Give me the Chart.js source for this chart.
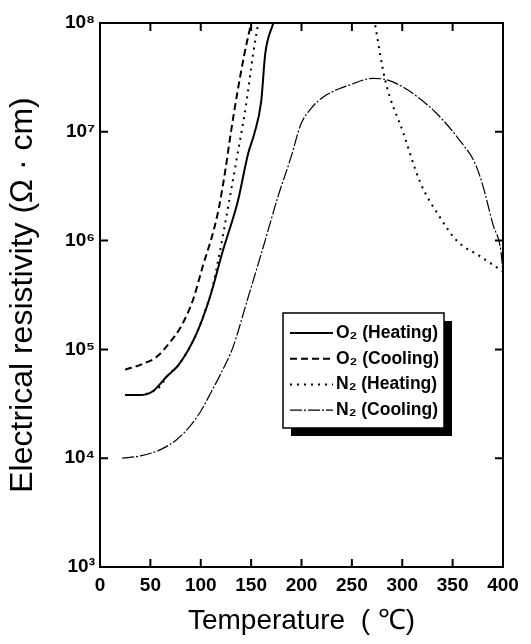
<!DOCTYPE html>
<html>
<head>
<meta charset="utf-8">
<script src="https://cdn.jsdelivr.net/npm/chart.js@4.4.1/dist/chart.umd.min.js"></script>
<style>
  html, body { margin: 0; padding: 0; background: #fff; }
</style>
</head>
<body>
<canvas id="chart" width="531" height="644"></canvas>
<script>
// values (temperature in °C, resistivity in ohm·cm)
const o2HeatT = [25, 40, 52, 66, 79, 96, 109, 122, 137, 147, 153, 160, 164, 172];
const o2HeatR = [3.8e4, 3.8e4, 4.1e4, 5.6e4, 7.4e4, 1.41e5, 3.0e5, 8.1e5, 2.34e6, 6.3e6, 9.5e6, 1.9e7, 5.2e7, 1e8];

const o2CoolT = [25, 43, 56, 69, 80, 92, 102, 113, 118, 124, 130, 136, 143, 150];
const o2CoolR = [6.5e4, 7.4e4, 8.5e4, 1.15e5, 1.6e5, 2.8e5, 5.8e5, 1.26e6, 2.0e6, 4.2e6, 1.0e7, 2.2e7, 5.0e7, 1e8];

// N2 heating leaves the top of the plot and comes back down (null = gap)
const n2HeatT = [25, 40, 52, 60, 66, 79, 96, 106, 111, 119, 125, 135, 145, 152, 158, 215, 272, 283, 301, 318, 337, 354, 377, 400];
const n2HeatR = [3.8e4, 3.8e4, 4.1e4, 4.6e4, 5.6e4, 7.4e4, 1.41e5, 2.5e5, 3.5e5, 7.9e5, 1.58e6, 5.2e6, 1.78e7, 5.2e7, 1.12e8, null, 1.1e8, 3.0e7, 9.8e6, 3.4e6, 1.66e6, 1.0e6, 7.2e5, 5.2e5];

const n2CoolT = [22, 40, 60, 76, 90, 100, 110, 120, 132, 146, 161, 177, 190, 199, 210, 222, 248, 271, 285, 300, 315, 334, 359, 372, 380, 390, 398, 400];
const n2CoolR = [1.0e4, 1.05e4, 1.2e4, 1.48e4, 2.0e4, 2.7e4, 4.0e4, 6.0e4, 1.05e5, 2.8e5, 8.1e5, 2.6e6, 6.0e6, 1.15e7, 1.66e7, 2.1e7, 2.7e7, 3.1e7, 3.0e7, 2.6e7, 2.1e7, 1.48e7, 7.9e6, 5.2e6, 3.2e6, 1.41e6, 7.9e5, 5.0e5];

const seriesLabels = ['O₂ (Heating)', 'O₂ (Cooling)', 'N₂ (Heating)', 'N₂ (Cooling)'];

const xTicks = [0, 50, 100, 150, 200, 250, 300, 350, 400];
const yTicks = [1e3, 1e4, 1e5, 1e6, 1e7, 1e8];
const yTickLabels = ['10³', '10⁴', '10⁵', '10⁶', '10⁷', '10⁸'];

const fontFamily = "'Liberation Sans', Arial, sans-serif";

const toPoints = (xs, ys) => xs.map((x, i) => ({ x, y: ys[i] }));

const lineStyles = [
  { borderWidth: 2, borderDash: [] },
  { borderWidth: 2, borderDash: [7, 4] },
  { borderWidth: 2, borderDash: [2, 5] },
  { borderWidth: 1.2, borderDash: [12, 2, 2, 2] },
];

const seriesData = [
  toPoints(o2HeatT, o2HeatR),
  toPoints(o2CoolT, o2CoolR),
  toPoints(n2HeatT, n2HeatR),
  toPoints(n2CoolT, n2CoolR),
];

// box round the plot with inward ticks on all four sides
const framePlugin = {
  id: 'frame',
  afterDatasetsDraw(chart) {
    const { ctx, chartArea: a, scales } = chart;
    ctx.save();
    ctx.strokeStyle = '#000';
    ctx.lineWidth = 2;
    ctx.strokeRect(a.left, a.top, a.right - a.left, a.bottom - a.top);
    ctx.beginPath();
    xTicks.forEach((v) => {
      const px = scales.x.getPixelForValue(v);
      ctx.moveTo(px, a.bottom);
      ctx.lineTo(px, a.bottom - 8);
      ctx.moveTo(px, a.top);
      ctx.lineTo(px, a.top + 8);
    });
    yTicks.forEach((v) => {
      const py = scales.y.getPixelForValue(v);
      ctx.moveTo(a.left, py);
      ctx.lineTo(a.left + 8, py);
      ctx.moveTo(a.right, py);
      ctx.lineTo(a.right - 8, py);
    });
    ctx.stroke();
    ctx.restore();
  },
};

// legend inside the plot with a drop shadow
const legendPlugin = {
  id: 'boxLegend',
  afterDraw(chart) {
    const { ctx } = chart;
    const box = { left: 283, top: 313, width: 161, height: 115 };
    ctx.save();
    ctx.fillStyle = '#000';
    ctx.fillRect(box.left + 8, box.top + 8, box.width, box.height);
    ctx.fillStyle = '#fff';
    ctx.fillRect(box.left, box.top, box.width, box.height);
    ctx.strokeStyle = '#000';
    ctx.lineWidth = 1.5;
    ctx.strokeRect(box.left, box.top, box.width, box.height);

    chart.data.datasets.forEach((ds, i) => {
      const cy = box.top + 20 + i * 25.7;
      ctx.beginPath();
      ctx.setLineDash(ds.borderDash);
      ctx.lineWidth = ds.borderWidth;
      ctx.moveTo(box.left + 7, cy);
      ctx.lineTo(box.left + 50, cy);
      ctx.stroke();
      ctx.setLineDash([]);
      ctx.fillStyle = '#000';
      ctx.font = `bold 17.5px ${fontFamily}`;
      ctx.textBaseline = 'middle';
      ctx.fillText(ds.label, box.left + 53, cy);
    });
    ctx.restore();
  },
};

const ctx = document.querySelector('#chart').getContext('2d');

const chart = new Chart(ctx, {
  type: 'line',
  data: {
    datasets: seriesData.map((data, i) => ({
      label: seriesLabels[i],
      data,
      borderColor: '#000',
      backgroundColor: 'transparent',
      borderWidth: lineStyles[i].borderWidth,
      borderDash: lineStyles[i].borderDash,
      pointRadius: 0,
      cubicInterpolationMode: 'monotone',
      spanGaps: false,
    })),
  },
  options: {
    responsive: false,
    animation: false,
    devicePixelRatio: 1,
    layout: { padding: { top: 23, right: 28, left: 0, bottom: 0 } },
    plugins: {
      legend: { display: false },
      tooltip: { enabled: false },
    },
    scales: {
      x: {
        type: 'linear',
        min: 0,
        max: 400,
        grid: { display: false, drawTicks: false },
        border: { display: false },
        ticks: {
          stepSize: 50,
          padding: 7,
          color: '#000',
          font: { family: fontFamily, size: 19, weight: 'bold' },
          maxRotation: 0,
        },
        title: {
          display: true,
          text: 'Temperature  ( ℃)',
          color: '#000',
          font: { family: fontFamily, size: 28 },
          padding: { top: 0, bottom: 6 },
        },
        afterFit: (scale) => {
          scale.height = 77;
        },
      },
      y: {
        type: 'logarithmic',
        min: 1e3,
        max: 1e8,
        grid: { display: false, drawTicks: false },
        border: { display: false },
        afterBuildTicks: (scale) => {
          scale.ticks = yTicks.map((value) => ({ value }));
        },
        ticks: {
          padding: 5,
          color: '#000',
          font: { family: fontFamily, size: 19, weight: 'bold' },
          callback: (v) => yTickLabels[Math.round(Math.log10(v)) - 3],
        },
        title: {
          display: true,
          text: 'Electrical resistivity (Ω · cm)',
          color: '#000',
          font: { family: fontFamily, size: 32 },
          padding: { top: 4, bottom: 0 },
        },
        afterFit: (scale) => {
          scale.width = 100;
        },
      },
    },
  },
  plugins: [framePlugin, legendPlugin],
});
</script>
</body>
</html>
